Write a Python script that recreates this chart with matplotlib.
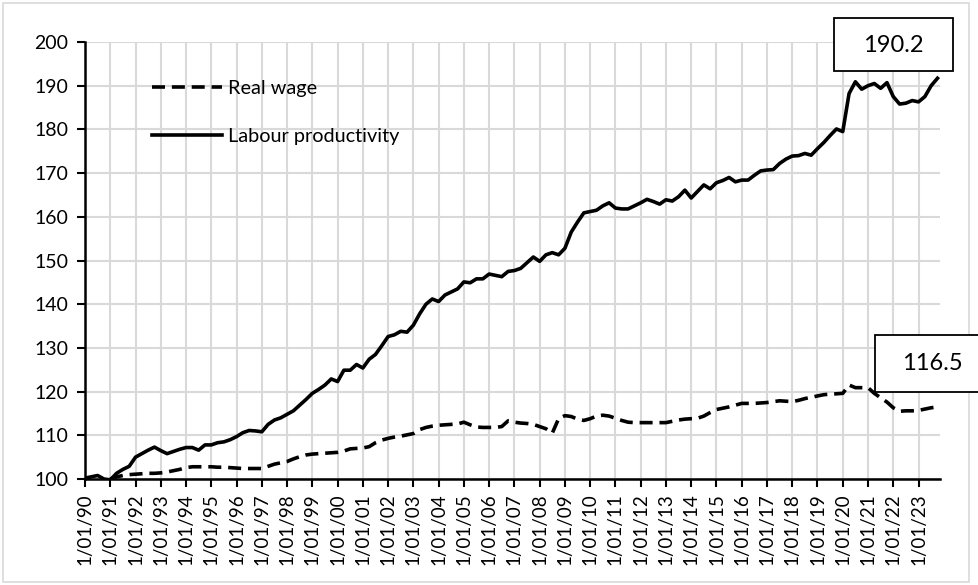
import numpy as np
import matplotlib
matplotlib.use("Agg")
import matplotlib.pyplot as plt
from matplotlib.patches import Rectangle

plt.rcParams['font.family'] = ['Lato', 'DejaVu Sans']

# quarterly index, 1990Q1 .. 2023Q4
years = list(range(1990, 2024))
tick_labels = ["1/01/%02d" % (y % 100) for y in years]

labour_productivity = [
    100.2, 100.5, 100.8, 100.0,
    99.8, 101.3, 102.2, 102.9,
    105.0, 105.8, 106.6, 107.3,
    106.5, 105.8, 106.3, 106.8,
    107.2, 107.2, 106.6, 107.8,
    107.8, 108.3, 108.5, 109.0,
    109.7, 110.6, 111.1, 111.0,
    110.8, 112.5, 113.5, 114.0,
    114.8, 115.6, 116.9, 118.2,
    119.6, 120.5, 121.5, 122.9,
    122.3, 124.9, 124.9, 126.2,
    125.4, 127.4, 128.5, 130.5,
    132.6, 133.0, 133.8, 133.6,
    135.2, 137.8, 140.0, 141.2,
    140.6, 142.1, 142.8, 143.5,
    145.1, 144.9, 145.8, 145.8,
    146.9, 146.6, 146.3, 147.5,
    147.7, 148.2, 149.5, 150.8,
    149.8, 151.3, 151.8, 151.3,
    152.8, 156.5, 158.8, 160.9,
    161.2, 161.5, 162.5, 163.2,
    162.0, 161.8, 161.8, 162.5,
    163.2, 164.0, 163.5, 162.9,
    163.9, 163.6, 164.6, 166.1,
    164.3, 165.8, 167.3, 166.4,
    167.8, 168.3, 169.0, 168.0,
    168.4, 168.4, 169.5, 170.5,
    170.7, 170.8, 172.2, 173.2,
    173.9, 174.0, 174.5, 174.1,
    175.6, 177.0, 178.6, 180.1,
    179.5, 188.2, 190.9, 189.2,
    190.0, 190.5, 189.4, 190.7,
    187.5, 185.8, 186.0, 186.6,
    186.3, 187.5, 190.0, 191.7,
]

real_wage = [
    np.nan, np.nan, np.nan, np.nan,
    100.0, 100.5, 100.8, 101.0,
    101.1, 101.2, 101.3, 101.3,
    101.4, 101.6, 101.9, 102.2,
    102.6, 102.8, 102.8, 102.8,
    102.8, 102.7, 102.7, 102.6,
    102.5, 102.4, 102.4, 102.4,
    102.4, 102.9, 103.4, 103.7,
    104.0, 104.6, 105.1, 105.5,
    105.7, 105.8, 105.9, 106.0,
    106.1, 106.4, 106.9, 107.0,
    107.1, 107.4, 108.3, 108.9,
    109.3, 109.6, 109.8, 110.1,
    110.4, 111.3, 111.8, 112.1,
    112.3, 112.4, 112.5, 112.6,
    113.0, 112.4, 111.9, 111.8,
    111.8, 111.8, 112.0, 113.3,
    113.0, 112.8, 112.7, 112.5,
    112.0, 111.5, 110.5, 113.8,
    114.5, 114.3, 113.7, 113.4,
    113.8, 114.4, 114.6, 114.4,
    113.9, 113.4, 113.0, 112.9,
    112.9, 112.9, 112.9, 112.9,
    112.9, 113.2, 113.5, 113.7,
    113.8, 113.9, 114.4, 115.2,
    115.9, 116.2, 116.5, 116.9,
    117.3, 117.3, 117.3, 117.4,
    117.5, 117.7, 117.9, 117.8,
    117.7, 118.0, 118.4, 118.7,
    119.0, 119.3, 119.4, 119.5,
    119.6, 121.5, 120.9, 120.9,
    120.9, 119.6, 118.6, 117.6,
    116.3, 115.5, 115.6, 115.6,
    115.7, 116.0, 116.3, 116.5,
]

label_lp = "190.2"
label_rw = "116.5"

x = np.arange(len(labour_productivity))

fig = plt.figure(figsize=(9.79, 5.85), dpi=100)
ax = fig.add_axes([85 / 979, 1 - 479 / 585, (940 - 85) / 979, (479 - 42) / 585])

grid_col = '#d9d9d9'
ax.plot(x, real_wage, color='black', lw=2.6, ls=(0, (3.6, 1.9)), label='Real wage', zorder=3)
ax.plot(x, labour_productivity, color='black', lw=2.6, label='Labour productivity', zorder=3)

ax.set_xlim(0, 135.4)
ax.set_ylim(100, 200)
ax.set_yticks(range(100, 201, 10))
ax.set_xticks(x[::4])
ax.set_xticklabels(tick_labels, rotation=90, fontsize=13.5)
ax.tick_params(axis='y', labelsize=14, length=6, width=1.5, pad=6)
ax.tick_params(axis='x', length=6, width=1.5, pad=4)

ax.grid(True, color=grid_col, lw=1.5, zorder=0)
ax.set_axisbelow(True)
for s in ['top', 'right']:
    ax.spines[s].set_visible(False)
for s in ['left', 'bottom']:
    ax.spines[s].set_linewidth(1.8)
    ax.spines[s].set_zorder(4)

leg = ax.legend(loc='upper left', bbox_to_anchor=(0.058, 0.955), frameon=False,
                fontsize=14.3, handlelength=3.5, handletextpad=0.3, labelspacing=1.6)

# callout boxes
fig.patches.append(Rectangle((834 / 979, 1 - 71 / 585), (953 - 834) / 979, (71 - 18) / 585,
                             transform=fig.transFigure, fill=True, facecolor='white',
                             edgecolor='black', lw=1.3, zorder=5))
fig.patches.append(Rectangle((875 / 979, 1 - 392 / 585), (985 - 875) / 979, (392 - 335) / 585,
                             transform=fig.transFigure, fill=True, facecolor='white',
                             edgecolor='black', lw=1.3, zorder=5))
fig.text(893 / 979, 1 - 45 / 585, label_lp, ha='center', va='center', fontsize=17, zorder=7)
fig.text(932 / 979, 1 - 364 / 585, label_rw, ha='center', va='center', fontsize=17, zorder=7)

# outer chart border
fig.patches.append(Rectangle((3 / 979, 3 / 585), (969 - 3) / 979, (582 - 3) / 585,
                             transform=fig.transFigure, fill=False,
                             edgecolor=grid_col, lw=1.2, zorder=0))

fig.savefig('out.png', dpi=100)
